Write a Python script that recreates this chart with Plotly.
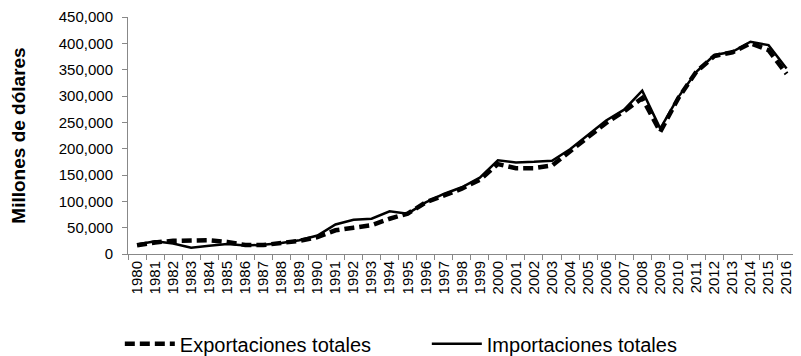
import plotly.graph_objects as go

years = [str(y) for y in range(1980, 2017)]

exportaciones = [16500, 22000, 25000, 26000, 26000, 23000, 17000, 17000, 20000, 25000,
                 32000, 45000, 50000, 54600, 67000, 76600, 98000, 112000, 124000, 141000,
                 170700, 163000, 163000, 168000, 194500, 220800, 249000, 271000, 296000, 232000,
                 296000, 346000, 376000, 383000, 400000, 387000, 342000]

importaciones = [18000, 24000, 20000, 12000, 15700, 19000, 16000, 17500, 21000, 26000,
                 35000, 56000, 65000, 67000, 81000, 76600, 98000, 114000, 126700, 145000,
                 178000, 173800, 175000, 177000, 199000, 226000, 253500, 274000, 310000, 238000,
                 298000, 346000, 377800, 384000, 403000, 396600, 352000]

yticks = list(range(0, 450001, 50000))

fig = go.Figure()
fig.add_trace(go.Scatter(
    x=years, y=exportaciones, mode="lines", name="Exportaciones totales",
    line=dict(color="black", width=4.5, dash="10px,5px"),
))
fig.add_trace(go.Scatter(
    x=years, y=importaciones, mode="lines", name="Importaciones totales",
    line=dict(color="black", width=2.5),
))

# page body has an 8px margin, so the figure is sized 8px smaller than the window
fig.update_layout(
    width=793, height=348,
    margin=dict(l=120, r=0, t=9, b=102, autoexpand=False),
    plot_bgcolor="white", paper_bgcolor="white",
    font=dict(family="Liberation Sans, Arial, sans-serif", size=15, color="black"),
    showlegend=True,
    legend=dict(
        orientation="h", xref="container", yref="container",
        x=0.141, y=0.035, xanchor="left", yanchor="middle",
        font=dict(size=20), entrywidth=242, entrywidthmode="pixels",
        itemwidth=50, bgcolor="rgba(0,0,0,0)",
    ),
)
fig.update_xaxes(
    type="category", range=[-0.5, 36.8], tickson="boundaries", automargin=False,
    ticks="outside", ticklen=5, tickcolor="#888", showline=True, linecolor="#888",
    linewidth=1, tickangle=-90, showgrid=False, tickfont=dict(size=15),
)
fig.update_yaxes(
    range=[0, 450000], tickvals=yticks, tickformat=",", automargin=False,
    ticks="outside", ticklen=5, tickcolor="#888", showline=True, linecolor="#888",
    linewidth=1, showgrid=False, zeroline=False, tickfont=dict(size=15),
    ticklabelstandoff=6, ticklabeloverflow="allow",
    title=dict(text="<b>Millones de dólares</b>", font=dict(size=19), standoff=32),
)

fig.write_html("out.html")
